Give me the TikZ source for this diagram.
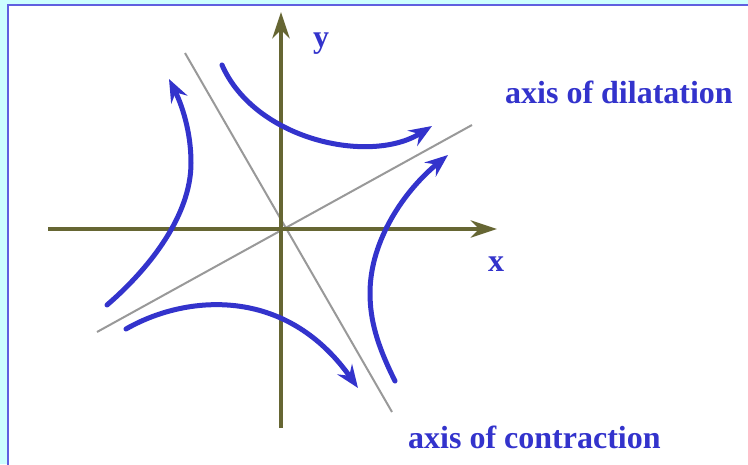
\documentclass[tikz,border=0pt]{standalone}
\usepackage{fontspec}
\setmainfont{Liberation Serif}
\usepackage{xcolor}
\usetikzlibrary{arrows.meta, positioning, calc}
\definecolor{flowblue}{RGB}{51,51,204}
\definecolor{axisolive}{RGB}{102,102,51}
\definecolor{eigengray}{RGB}{153,153,153}
\definecolor{framecyan}{RGB}{204,255,255}
\definecolor{frameblue}{RGB}{96,96,224}

\begin{document}
\begin{tikzpicture}[x=1pt, y=-1pt,
    axis/.style={draw=axisolive, line width=4.8pt, -{Stealth[length=26pt, width=17pt, inset=8pt]}},
    eigen/.style={draw=eigengray, line width=2pt},
    flow/.style={draw=flowblue, line width=5pt, line cap=round, -{Stealth[length=23pt, width=18pt, inset=8pt]}},
    lbl/.style={text=flowblue, font=\fontsize{32}{38}\selectfont\bfseries, inner sep=0pt, anchor=base west}]
    \useasboundingbox (0,0) rectangle (748,464);
    % frame
    \fill[framecyan] (0,0) rectangle (748,464);
    \filldraw[fill=white, draw=frameblue, line width=2pt] (8,5) rectangle (770,490);

    \coordinate (o) at (281,229);
    \coordinate (xl) at (48,229);
    \coordinate (xr) at (497,229);
    \coordinate (yb) at (281,428);
    \coordinate (yt) at (281,12);

    % eigen directions
    \draw[eigen] (185,53) -- (392,412);
    \draw[eigen] (97,332) -- (472,125);

    % axes
    \draw[axis] (xl) -- (xr);
    \draw[axis] (yb) -- (yt);

    % flow lines
    \draw[flow] (222,65) .. controls (255,140) and (370,165) .. (432,126);
    \draw[flow] (107,305) .. controls (150,268) and (191,215) .. (191,163)
                          .. controls (191,125) and (178,97) .. (169,79);
    \draw[flow] (395,381) .. controls (377,345) and (370,320) .. (370,293)
                          .. controls (370,240) and (405,190) .. (448,155);
    \draw[flow] (126,329) .. controls (185,295) and (285,285) .. (358,388);

    % labels
    \node[lbl] (ylab) at (313,47) {y};
    \node[lbl] (xlab) at (488,271) {x};
    \node[lbl] (dil) at (505,103) {axis of dilatation};
    \node[lbl] (con) at (408,448) {axis of contraction};
\end{tikzpicture}
\end{document}
